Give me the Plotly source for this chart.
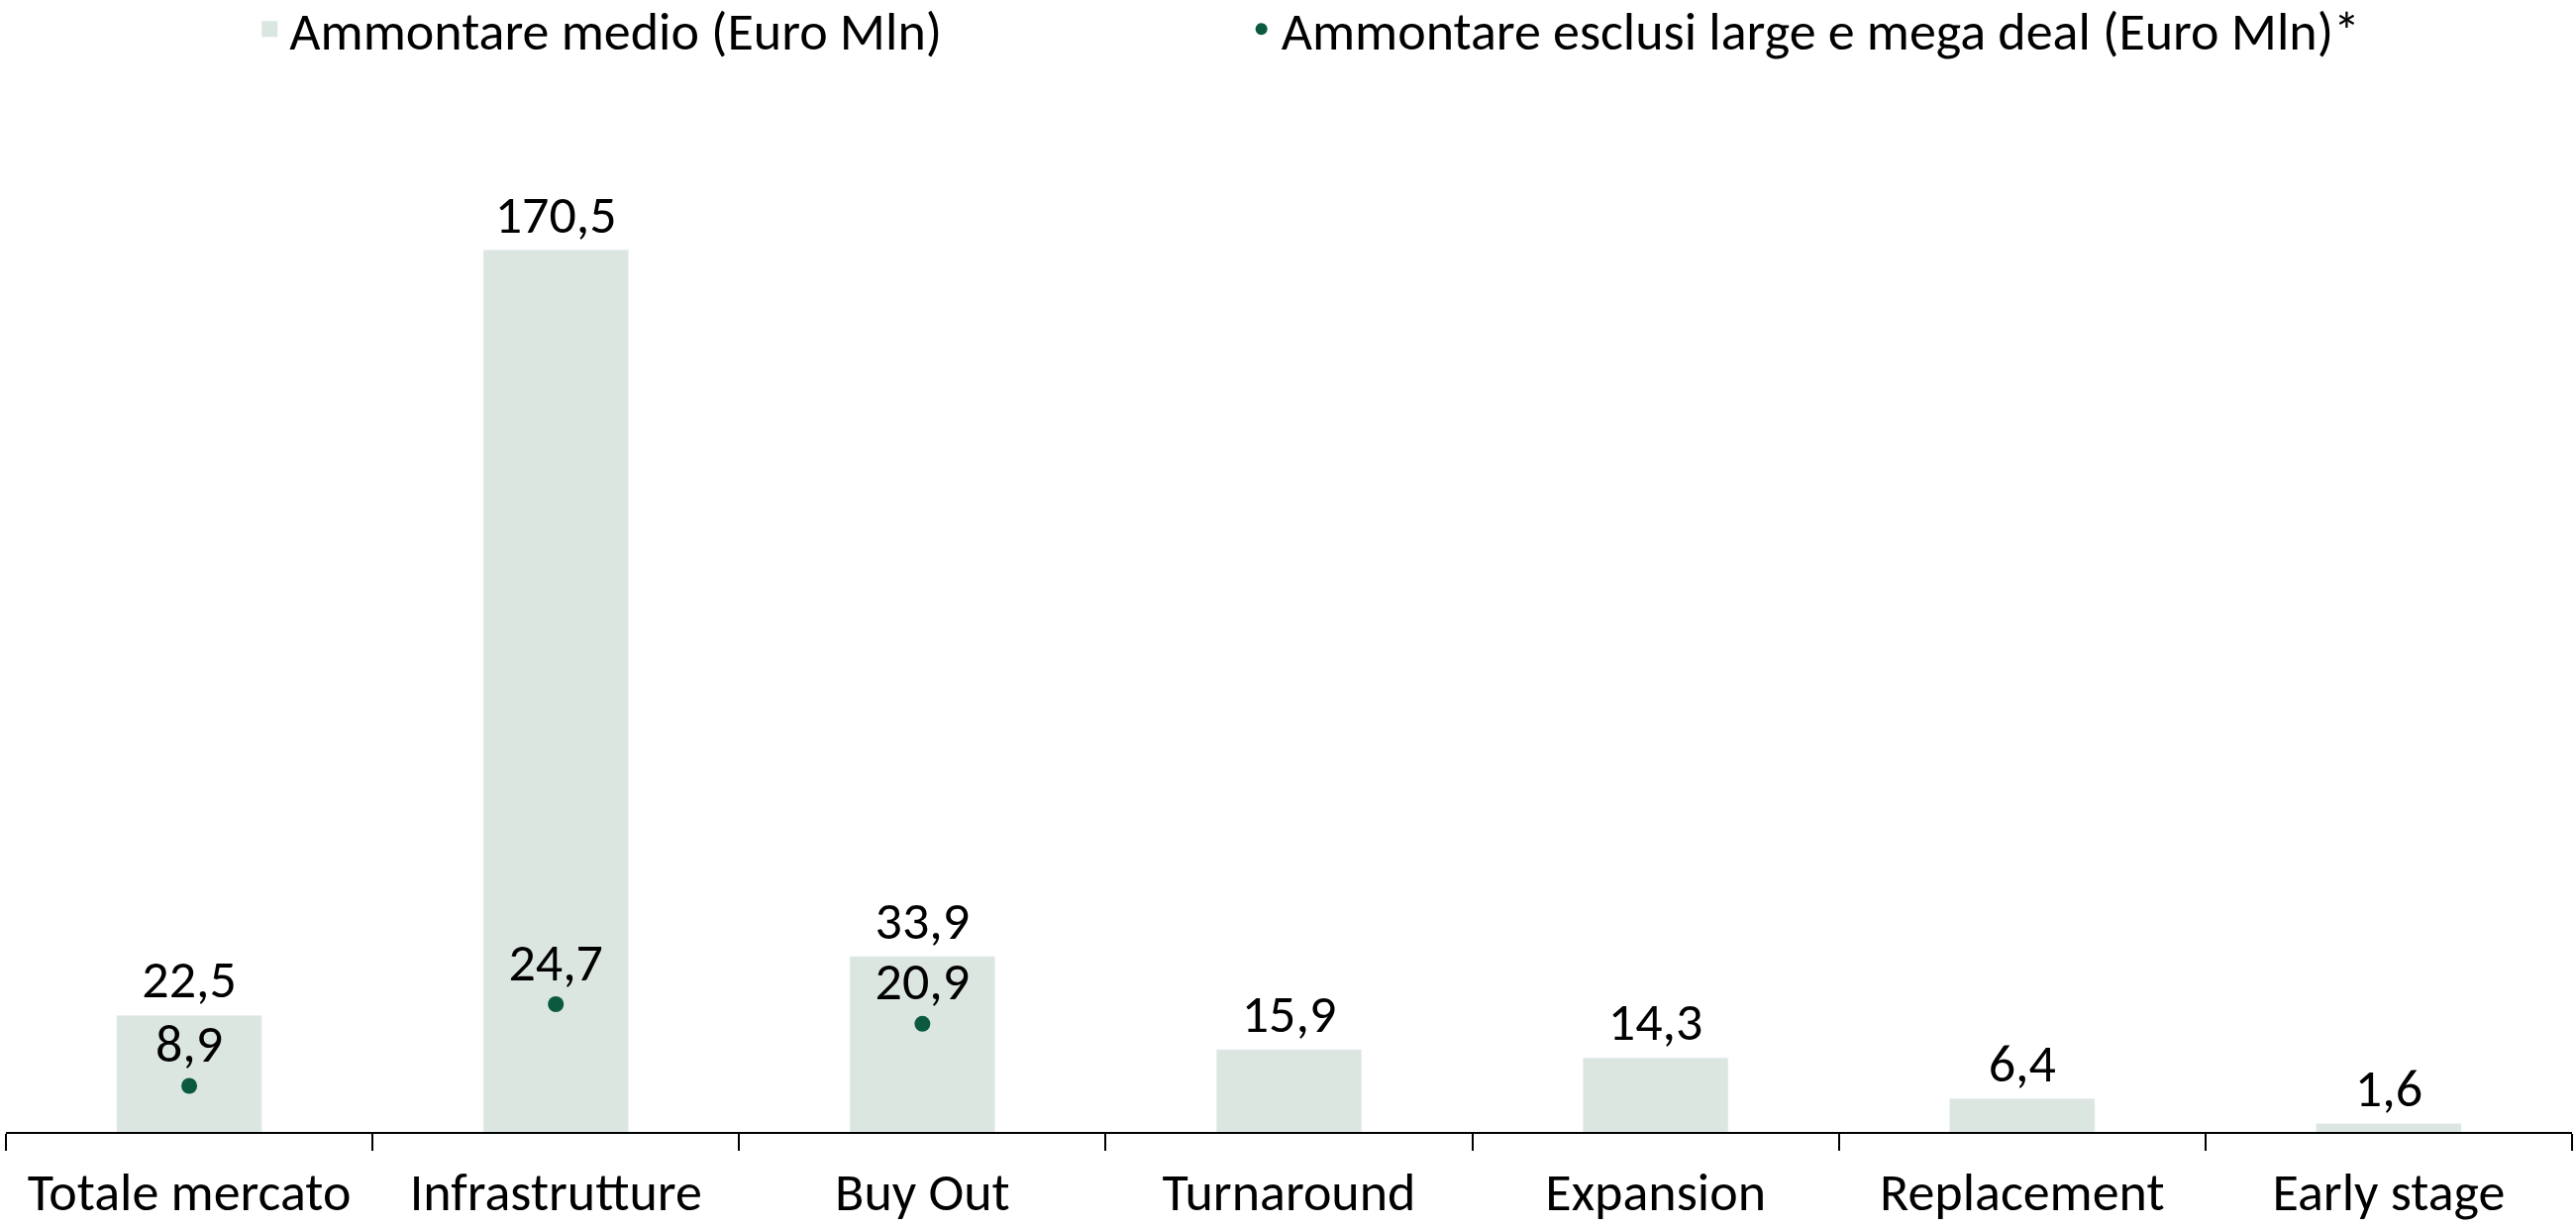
import plotly.graph_objects as go

categories = ["Totale mercato", "Infrastrutture", "Buy Out", "Turnaround",
              "Expansion", "Replacement", "Early stage"]
avg_amount = [22.5, 170.5, 33.9, 15.9, 14.3, 6.4, 1.6]
excl_cats = ["Totale mercato", "Infrastrutture", "Buy Out"]
excl_amount = [8.9, 24.7, 20.9]

name_bar = "Ammontare medio (Euro Mln)"
name_dot = "Ammontare esclusi large e mega deal (Euro Mln)*"

BAR_COLOR = "#DCE6E1"
DOT_COLOR = "#0B5A40"
FONT = "Carlito, Lato, 'Open Sans', sans-serif"
FS = 54

fig = go.Figure()
fig.add_trace(go.Bar(
    x=categories, y=avg_amount, marker_color=BAR_COLOR, width=0.395,
    texttemplate="%{y:.1f}", textposition="outside",
    textfont=dict(size=FS, color="black", family=FONT),
    cliponaxis=False, showlegend=False, name=name_bar,
))
# legend proxy for the bar series (larger square swatch)
fig.add_trace(go.Scatter(
    x=[None], y=[None], mode="markers", name=name_bar, legend="legend",
    marker=dict(symbol="square", size=16, color=BAR_COLOR),
))
fig.add_trace(go.Scatter(
    x=excl_cats, y=excl_amount, mode="markers+text", name=name_dot, legend="legend2",
    marker=dict(size=16, color=DOT_COLOR),
    texttemplate="%{y:.1f}", textposition="top center",
    textfont=dict(size=FS, color="black", family=FONT),
    cliponaxis=False,
))

legend_common = dict(orientation="h", yref="container", xref="container",
                     y=0.976, yanchor="middle", xanchor="left",
                     font=dict(size=FS, family=FONT, color="black"),
                     bgcolor="rgba(0,0,0,0)")

fig.update_layout(
    width=2601, height=1240,
    margin=dict(l=6, r=4, t=100, b=97, autoexpand=False),
    paper_bgcolor="white", plot_bgcolor="white",
    separators=",.",
    font=dict(family=FONT, size=FS, color="black"),
    legend=dict(x=0.097, itemsizing="trace", **legend_common),
    legend2=dict(x=0.482, itemsizing="constant", **legend_common),
)
fig.update_xaxes(
    type="category", range=[-0.5, 6.5], showline=True, linecolor="black", linewidth=2,
    ticks="outside", tickson="boundaries", ticklen=17, tickwidth=2, tickcolor="black",
    showgrid=False, tickfont=dict(size=FS, family=FONT, color="black"),
    ticklabelstandoff=12, automargin=False,
)
fig.update_yaxes(range=[0, 199.7], visible=False, showgrid=False, zeroline=False)

fig.write_html("out.html",
               config={"displayModeBar": False},
               post_script="document.body.style.margin='0';document.body.style.overflow='hidden';")
